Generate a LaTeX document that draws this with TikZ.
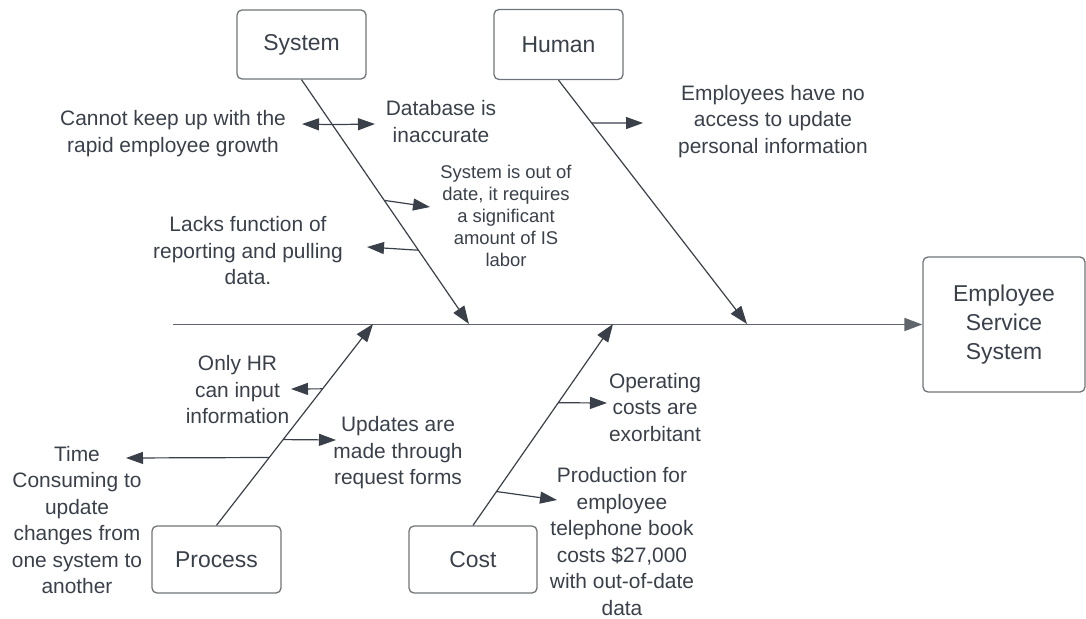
\documentclass[tikz,border=0pt]{standalone}
\usepackage{fontspec}
\setmainfont{Liberation Sans}
\usetikzlibrary{arrows.meta}
\definecolor{ink}{RGB}{58,64,74}
\definecolor{frame}{RGB}{112,116,122}
\definecolor{spinegray}{RGB}{96,100,108}
\begin{document}
\begin{tikzpicture}[x=1bp,y=-1bp,
  catbox/.style={draw=frame,line width=1.3bp,rounded corners=5bp,text=ink,
    font=\fontsize{23}{29.5}\selectfont,align=center,inner sep=0pt},
  cause/.style={text=ink,align=center,font=\fontsize{21}{26.6}\selectfont,inner sep=0pt},
  smallcause/.style={text=ink,align=center,font=\fontsize{18.5}{22}\selectfont,inner sep=0pt},
  bone/.style={draw=ink,line width=1.2bp,-{Triangle[length=18bp,width=13bp]}},
  twig/.style={draw=ink,line width=1.2bp,-{Triangle[length=17bp,width=12bp]}},
  spine/.style={draw=spinegray,line width=1.6bp,-{Triangle[length=18bp,width=13bp]}}]
\useasboundingbox (0,0) rectangle (1086,619);

% category boxes and the effect box
\node[catbox,minimum width=129bp,minimum height=69bp] (sys) at (301.5,44.5) {System};
\node[catbox,minimum width=129bp,minimum height=70bp] (hum) at (558.5,44.5) {Human};
\node[catbox,minimum width=129bp,minimum height=67bp] (proc) at (216.5,559.5) {Process};
\node[catbox,minimum width=128bp,minimum height=67bp] (cost) at (473,559.5) {Cost};
\node[catbox,minimum width=162bp,minimum height=135bp] (ess) at (1004,324.5) {Employee\\Service\\System};

% spine
\coordinate (tail) at (173,324.5);
\draw[spine] (tail) -- (ess.west);

% bones meeting the spine
\coordinate (sysEnd) at (469,324);
\coordinate (humEnd) at (747,324);
\coordinate (procEnd) at (373,324);
\coordinate (costEnd) at (613,324);
\draw[bone] (sys.south) -- (sysEnd);
\draw[bone] (hum.south) -- (humEnd);
\draw[bone] (proc.north) -- (procEnd);
\draw[bone] (cost.north) -- (costEnd);

% points on the bones where the causes branch off
\path (sys.south) -- (sysEnd)
  coordinate[pos=0.184] (s1) coordinate[pos=0.494] (s2) coordinate[pos=0.698] (s3);
\path (hum.south) -- (humEnd) coordinate[pos=0.176] (h1);
\path (proc.north) -- (procEnd)
  coordinate[pos=0.337] (p1) coordinate[pos=0.426] (p2) coordinate[pos=0.678] (p3);
\path (cost.north) -- (costEnd) coordinate[pos=0.168] (c1) coordinate[pos=0.609] (c2);

% cause labels
\node[cause] (growth) at (173,133.5) {Cannot keep up with the\\rapid employee growth};
\node[cause] (db) at (441,121.5) {Database is\\inaccurate};
\node[smallcause] (outdated) at (506,216) {System is out of\\date, it requires\\a significant\\amount of IS\\labor};
\node[cause] (report) at (248,251) {Lacks function of\\reporting and pulling\\data.};
\node[cause] (access) at (773,121.5) {Employees have no\\access to update\\personal information};
\node[cause] (onlyhr) at (237.5,390) {Only HR\\can input\\information};
\node[cause] (forms) at (398,453) {Updates are\\made through\\request forms};
\node[cause] (timecons) at (77,520) {Time\\Consuming to\\update\\changes from\\one system to\\another};
\node[cause] (opcost) at (655,407.5) {Operating\\costs are\\exorbitant};
\node[cause] (phone) at (622,541.5) {Production for\\employee\\telephone book\\costs \$27,000\\with out-of-date\\data};

% arrow tips next to the labels
\coordinate (t1l) at (302,124);
\coordinate (t1r) at (375,124);
\coordinate (t2) at (430,207);
\coordinate (t3) at (367,247);
\coordinate (th) at (643,123);
\coordinate (tp1) at (126,458);
\coordinate (tp2) at (336,440);
\coordinate (tp3) at (291,389);
\coordinate (tc1) at (557,500);
\coordinate (tc2) at (607,403);

\draw[twig] (s1) -- (t1l);
\draw[twig] (s1) -- (t1r);
\draw[twig] (s2) -- (t2);
\draw[twig] (s3) -- (t3);
\draw[twig] (h1) -- (th);
\draw[twig] (p1) -- (tp1);
\draw[twig] (p2) -- (tp2);
\draw[twig] (p3) -- (tp3);
\draw[twig] (c1) -- (tc1);
\draw[twig] (c2) -- (tc2);
\end{tikzpicture}
\end{document}
